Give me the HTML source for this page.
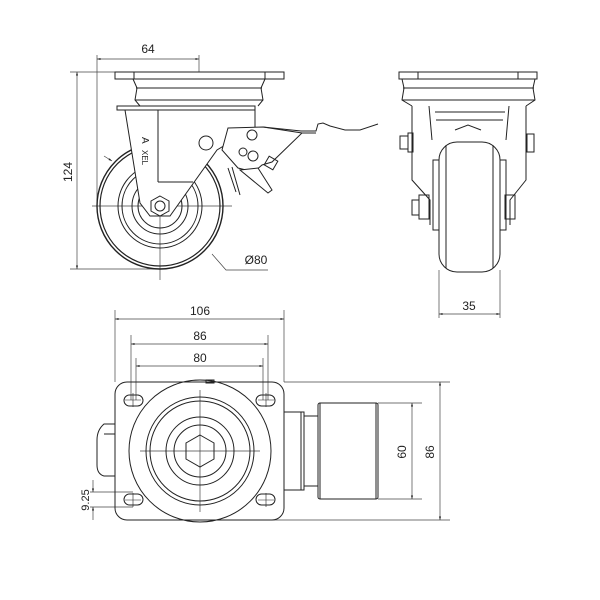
<!DOCTYPE html>
<html><head><style>body{margin:0;background:#fff}svg{display:block}</style></head><body>
<svg width="600" height="600" viewBox="0 0 600 600" xmlns="http://www.w3.org/2000/svg" font-family="Liberation Sans, sans-serif" fill="none" stroke="#222" stroke-width="1">
<defs><marker id="a" viewBox="0 0 10 10" refX="10" refY="5" markerWidth="7" markerHeight="5" orient="auto-start-reverse"><path d="M0,2 L10,5 L0,8z" fill="#222" stroke="none"/></marker></defs>
<g stroke-width="0.7" stroke="#444">
<line x1="97" y1="55" x2="97" y2="205"/><line x1="199" y1="55" x2="199" y2="72"/>
<line x1="97" y1="59" x2="199" y2="59" marker-start="url(#a)" marker-end="url(#a)"/>
<line x1="70" y1="72" x2="120" y2="72"/><line x1="70" y1="269" x2="160" y2="269"/>
<line x1="77" y1="72" x2="77" y2="269" marker-start="url(#a)" marker-end="url(#a)"/>
<polyline points="212,254 226,270 268,270"/>
<line x1="104" y1="156" x2="112" y2="161" marker-end="url(#a)"/>
<line x1="92" y1="206" x2="232" y2="206"/><line x1="160" y1="150" x2="160" y2="280"/>
<line x1="439" y1="270" x2="439" y2="318"/><line x1="500" y1="270" x2="500" y2="318"/>
<line x1="439" y1="314" x2="500" y2="314" marker-start="url(#a)" marker-end="url(#a)"/>
<line x1="115" y1="310" x2="115" y2="382"/><line x1="284" y1="310" x2="284" y2="382"/>
<line x1="115" y1="319" x2="284" y2="319" marker-start="url(#a)" marker-end="url(#a)"/>
<line x1="131" y1="335" x2="131" y2="400"/><line x1="268" y1="335" x2="268" y2="400"/>
<line x1="131" y1="344" x2="268" y2="344" marker-start="url(#a)" marker-end="url(#a)"/>
<line x1="136" y1="358" x2="136" y2="400"/><line x1="263" y1="358" x2="263" y2="400"/>
<line x1="136" y1="366" x2="263" y2="366" marker-start="url(#a)" marker-end="url(#a)"/>
<line x1="284" y1="382" x2="450" y2="382"/><line x1="200" y1="520" x2="450" y2="520"/>
<line x1="440" y1="382" x2="440" y2="520" marker-start="url(#a)" marker-end="url(#a)"/>
<line x1="378" y1="403" x2="422" y2="403"/><line x1="378" y1="499" x2="422" y2="499"/>
<line x1="412" y1="403" x2="412" y2="499" marker-start="url(#a)" marker-end="url(#a)"/>
<line x1="90" y1="492" x2="133" y2="492"/><line x1="90" y1="507" x2="133" y2="507"/>
<line x1="93" y1="480" x2="93" y2="492" marker-end="url(#a)"/><line x1="93" y1="520" x2="93" y2="507" marker-end="url(#a)"/>
<line x1="140" y1="451" x2="260" y2="451"/><line x1="200" y1="390" x2="200" y2="512"/>
</g>
<g font-size="12" fill="#222" stroke="none" text-anchor="middle">
<text x="148" y="53">64</text>
<text transform="translate(72,172) rotate(-90)">124</text>
<text x="256" y="264">Ø80</text>
<text x="469" y="310">35</text>
<text x="200" y="315">106</text>
<text x="200" y="340">86</text>
<text x="200" y="362">80</text>
<text transform="translate(406,452) rotate(-90)">60</text>
<text transform="translate(434,452) rotate(-90)">86</text>
<text transform="translate(89,500) rotate(-90)" font-size="11">9.25</text>
</g>
<!-- side view -->
<rect x="115" y="72" width="169" height="7"/>
<line x1="134" y1="72" x2="134" y2="79"/><line x1="265" y1="72" x2="265" y2="79"/>
<path d="M133,79 L137,88 L135,100 L140,106 M265,79 L261,88 L263,100 L258,106"/>
<line x1="136" y1="88" x2="262" y2="88"/><line x1="135" y1="100" x2="263" y2="100"/>
<rect x="117" y="106" width="138" height="4"/>
<circle cx="160" cy="206" r="63" stroke-width="1.4"/><circle cx="160" cy="206" r="60" stroke-width="1.2"/>
<circle cx="160" cy="206" r="42"/><circle cx="160" cy="206" r="38"/>
<circle cx="160" cy="206" r="28"/><circle cx="160" cy="206" r="22"/>
<path d="M125,110 L140,203 L150,216 L170,216 L217,150 L255,127 L255,110 Z" fill="#fff"/>
<polygon points="160,196 169,201 169,211 160,216 151,211 151,201" fill="#fff"/>
<circle cx="160" cy="206" r="5"/>
<line x1="158" y1="110" x2="158" y2="182"/><line x1="158" y1="182" x2="193" y2="182"/>
<text x="0" y="0" transform="translate(142,137) rotate(90)" font-size="10" fill="#222" stroke="none">A</text>
<text x="0" y="0" transform="translate(142,150) rotate(90)" font-size="8" fill="#222" stroke="none">XEL</text>
<path d="M228,128 L263,127 L302,133 L272,162 L262,165 L254,172 L238,168 L222,150 Z" fill="#fff"/>
<polyline points="263,127 301,131 316,131 318,124 323,123 330,126 345,130 360,130 378,124"/>
<polyline points="302,133 316,133"/>
<circle cx="206" cy="143" r="7" fill="#fff"/>
<circle cx="252" cy="135" r="5"/><circle cx="243" cy="152" r="4"/><circle cx="253" cy="156" r="5"/>
<path d="M240,170 L268,193 L272,190 L258,168 Z" fill="#fff"/>
<path d="M228,168 L236,192 M232,167 L240,195"/>
<rect x="266" y="158" width="10" height="10" transform="rotate(30 271 163)"/>
<!-- front view -->
<rect x="399" y="72" width="138" height="7"/>
<line x1="418" y1="72" x2="418" y2="79"/><line x1="518" y1="72" x2="518" y2="79"/>
<path d="M402,79 L404,88 L402,100 L412,106 M535,79 L533,88 L535,100 L526,106"/>
<line x1="403" y1="88" x2="534" y2="88"/><line x1="402" y1="100" x2="535" y2="100"/>
<path d="M412,106 L412,180 L430,200 L430,225 M526,106 L526,180 L510,200 L510,225"/>
<path d="M429,106 L432,140 M509,106 L506,140"/>
<line x1="435" y1="112" x2="505" y2="112"/><line x1="436" y1="120" x2="503" y2="120"/>
<path d="M455,130 L468,125 L481,130"/>
<rect x="439" y="142" width="61" height="130" rx="18"/>
<line x1="446" y1="145" x2="446" y2="268"/><line x1="493" y1="145" x2="493" y2="268"/>
<rect x="433" y="160" width="6" height="70"/><rect x="500" y="160" width="6" height="70"/>
<rect x="400" y="136" width="8" height="13"/><rect x="408" y="133" width="5" height="19"/>
<rect x="527" y="134" width="7" height="18"/>
<rect x="412" y="200" width="7" height="15"/><rect x="419" y="195" width="10" height="24"/>
<rect x="505" y="195" width="10" height="24"/>
<!-- bottom view -->
<rect x="115" y="382" width="169" height="138" rx="12"/>
<circle cx="200" cy="451" r="71"/><circle cx="200" cy="451" r="54"/><circle cx="200" cy="451" r="50"/>
<circle cx="200" cy="451" r="34"/><circle cx="200" cy="451" r="26"/>
<polygon points="200,435 214,443 214,459 200,467 186,459 186,443"/>
<rect x="124" y="395" width="19" height="11" rx="5.5"/><rect x="256" y="395" width="19" height="11" rx="5.5"/>
<rect x="124" y="494" width="19" height="11" rx="5.5"/><rect x="256" y="494" width="19" height="11" rx="5.5"/>
<path d="M125,400 h16 M133,393 v14 M258,400 h16 M266,393 v14 M125,500 h16 M133,493 v14 M258,500 h16 M266,493 v14" stroke-width="0.6"/>
<rect x="206" y="380" width="8" height="3"/>
<path d="M115,424 L104,424 Q97,430 97,440 L97,465 Q97,474 104,476 L115,476"/>
<line x1="104" y1="434" x2="115" y2="434"/>
<rect x="284" y="412" width="20" height="78"/><line x1="301" y1="412" x2="301" y2="490"/>
<rect x="304" y="416" width="14" height="70"/>
<rect x="318" y="403" width="60" height="96" rx="2"/><line x1="320" y1="403" x2="320" y2="499"/><line x1="376" y1="403" x2="376" y2="499"/>
</svg>
</body></html>
